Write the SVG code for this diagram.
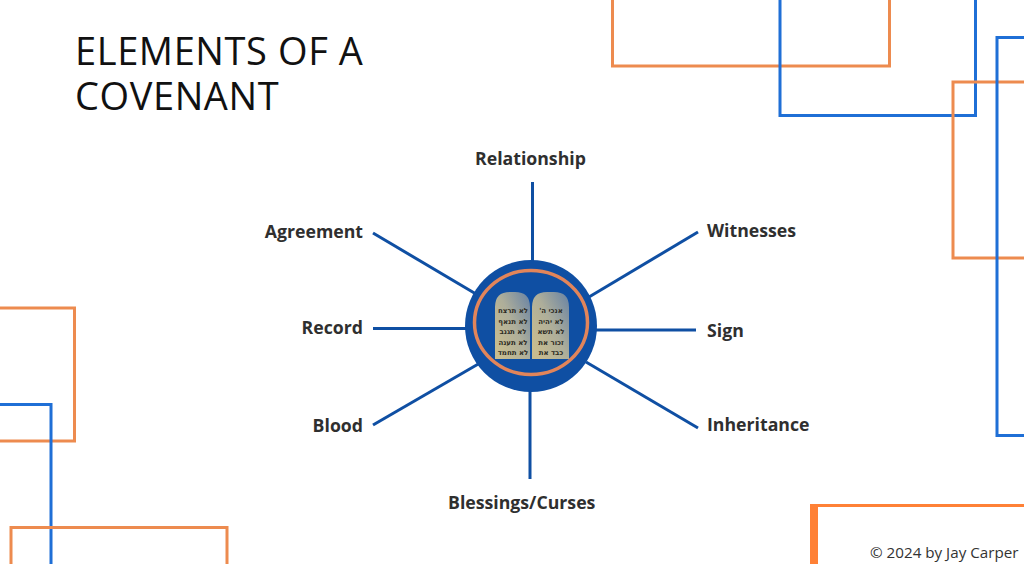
<svg xmlns="http://www.w3.org/2000/svg" width="1024" height="564" viewBox="0 0 1024 564">
<style>
.o{fill:none;stroke:#ed8b4f;stroke-width:3}
.b{fill:none;stroke:#1f6fd6;stroke-width:3}
.c{fill:none;stroke:#0f4fa3;stroke-width:3}
.l{font-family:"Open Sans","Noto Sans",sans-serif;font-weight:700;font-size:17.700px;fill:#2f2f2f}
.h{font-family:"DejaVu Sans","Noto Sans",sans-serif;font-size:7px;font-weight:700;fill:#2b2a22;text-anchor:middle;direction:rtl}
.t{font-family:"Open Sans","Noto Sans",sans-serif;font-size:38px;letter-spacing:0.6px;fill:#111}
</style>
<defs>
<linearGradient id="t" x1="0.05" y1="0.85" x2="0.95" y2="0.05">
<stop offset="0" stop-color="#c8bd8f"/><stop offset="0.5" stop-color="#aeae9a"/><stop offset="1" stop-color="#6f87a3"/>
</linearGradient>
</defs>
<rect width="1024" height="564" fill="#fff"/>
<g id="decor">
<rect class="o" x="612.500" y="-10" width="277" height="76"/>
<rect class="b" x="780" y="-10" width="195.500" height="125.500"/>
<rect class="o" x="953" y="82" width="90" height="176"/>
<rect class="b" x="997" y="37.500" width="50" height="398"/>
<rect class="o" x="-20" y="308" width="94.500" height="133"/>
<rect class="b" x="-20" y="404.500" width="71" height="180"/>
<rect class="o" x="11" y="527.500" width="216" height="60"/>
<path d="M813.500 570V505.500H1030" fill="none" stroke="#ff8136" stroke-width="3"/>
<rect x="810" y="504" width="8" height="62" fill="#ff8136"/>
</g>
<g id="title"><text class="t" x="75" y="64.500">ELEMENTS OF A</text><text class="t" x="75" y="110">COVENANT</text></g>
<g id="connectors">
<path class="c" d="M532.500 182V262"/>
<path class="c" d="M698 232L589 297"/>
<path class="c" d="M696 330H596"/>
<path class="c" d="M698 428L586 362"/>
<path class="c" d="M530 479V390"/>
<path class="c" d="M373 425L480 363"/>
<path class="c" d="M373 328.500H467"/>
<path class="c" d="M373 233L476 294"/>
</g>
<g id="hub">
<circle cx="531" cy="326" r="66" fill="#0f4fa3"/>
<ellipse cx="531" cy="322.500" rx="56.500" ry="52" fill="none" stroke="#e2855a" stroke-width="3.500"/>
<path d="M495 359V307Q495 292 510 292H515Q530 292 530 307V359Z" fill="url(#t)"/>
<path d="M532 359V307Q532 292 547 292H554Q569 292 569 307V359Z" fill="url(#t)"/>
<g class="h">
<text x="513" y="313">לא תרצח</text><text x="513" y="323.500">לא תנאף</text><text x="513" y="334">לא תגנב</text><text x="513" y="344.500">לא תענה</text><text x="513" y="355">לא תחמד</text>
<text x="551" y="313">אנכי ה'</text><text x="551" y="323.500">לא יהיה</text><text x="551" y="334">לא תשא</text><text x="551" y="344.500">זכור את</text><text x="551" y="355">כבד את</text>
</g>
</g>
<g id="relationship"><text class="l" x="475" y="164.500">Relationship</text></g>
<g id="witnesses"><text class="l" x="707" y="237">Witnesses</text></g>
<g id="sign"><text class="l" x="707" y="337">Sign</text></g>
<g id="inheritance"><text class="l" x="707" y="431">Inheritance</text></g>
<g id="blessings"><text class="l" x="448" y="509">Blessings/Curses</text></g>
<g id="blood"><text class="l" x="363" y="432" text-anchor="end">Blood</text></g>
<g id="record"><text class="l" x="363" y="334" text-anchor="end">Record</text></g>
<g id="agreement"><text class="l" x="363" y="238" text-anchor="end">Agreement</text></g>
<text id="copyright" x="870" y="558" font-family="Open Sans,Noto Sans,sans-serif" font-size="15.200" fill="#333">© 2024 by Jay Carper</text>
</svg>
